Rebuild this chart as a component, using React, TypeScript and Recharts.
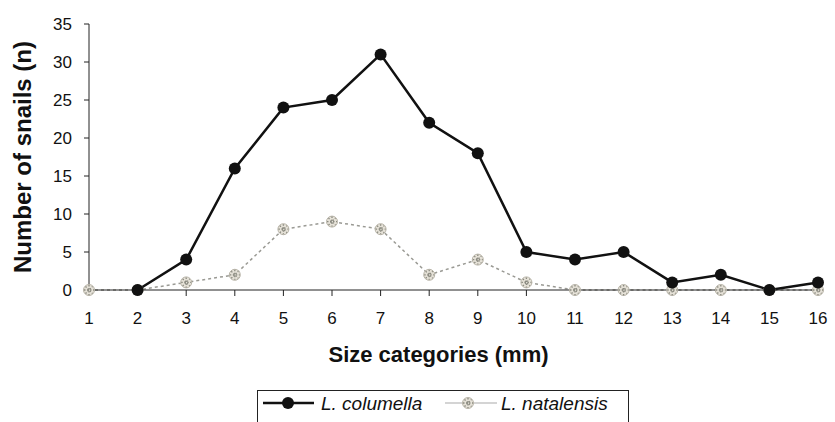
import React from 'react';
import { LineChart, Line, XAxis, YAxis, Label } from 'recharts';

// size categories (mm)
const sizes = [1, 2, 3, 4, 5, 6, 7, 8, 9, 10, 11, 12, 13, 14, 15, 16];
const columella = [null, 0, 4, 16, 24, 25, 31, 22, 18, 5, 4, 5, 1, 2, 0, 1];
const natalensis = [0, 0, 1, 2, 8, 9, 8, 2, 4, 1, 0, 0, 0, 0, 0, 0];
const yTicks = [0, 5, 10, 15, 20, 25, 30, 35];

const data = sizes.map((s, i) => ({ size: s, columella: columella[i], natalensis: natalensis[i] }));

const FONT = '"Liberation Sans", Arial, sans-serif';

// grey speckled marker for L. natalensis
function Speck({ cx, cy }: any) {
  if (cx == null || cy == null) return null;
  return (
    <g stroke="#8a8a80" strokeWidth={1.3} fill="none">
      <circle cx={cx} cy={cy} r={5.5} fill="#e6e2d8" stroke="#b8b4a8" strokeWidth={1} />
      <line x1={cx - 5} y1={cy} x2={cx + 5} y2={cy} strokeDasharray="1.5 1.5" />
      <line x1={cx} y1={cy - 5} x2={cx} y2={cy + 5} strokeDasharray="1.5 1.5" />
      <line x1={cx - 3.5} y1={cy - 3.5} x2={cx + 3.5} y2={cy + 3.5} strokeDasharray="1.5 1.5" />
      <line x1={cx - 3.5} y1={cy + 3.5} x2={cx + 3.5} y2={cy - 3.5} strokeDasharray="1.5 1.5" />
    </g>
  );
}

function LegendBox() {
  return (
    <div
      style={{
        position: 'absolute', left: 257, top: 390, width: 372, height: 40,
        border: '1px solid #222', boxSizing: 'border-box',
      }}
    >
      <svg width={372} height={40} style={{ position: 'absolute', left: -1, top: -1 }}>
        <line x1={6} y1={13} x2={57} y2={13} stroke="#111" strokeWidth={2.5} />
        <circle cx={31} cy={13} r={6} fill="#111" />
        <text x={64} y={20} fontFamily={FONT} fontStyle="italic" fontSize={19} fill="#111">L. columella</text>
        <line x1={188} y1={13} x2={240} y2={13} stroke="#aaa" strokeWidth={1.2} />
        <Speck cx={211} cy={13} />
        <text x={244} y={20} fontFamily={FONT} fontStyle="italic" fontSize={19} fill="#111">L. natalensis</text>
      </svg>
    </div>
  );
}

export default function App() {
  return (
    <div style={{ position: 'absolute', left: 0, top: 0, width: 835, height: 422, background: '#fff', overflow: 'hidden' }}>
      <LineChart width={835} height={422} data={data} margin={{ top: 24, right: 17, left: 0, bottom: 52 }}>
        <XAxis
          dataKey="size"
          type="number"
          domain={[1, 16]}
          ticks={sizes}
          interval={0}
          stroke="#222"
          tickSize={6}
          tickMargin={16}
          height={80}
          tick={{ fontSize: 17, fontFamily: FONT, fill: '#111' }}
        >
          <Label
            value="Size categories (mm)"
            position="insideBottom"
            offset={8}
            dx={-15}
            style={{ fontSize: 22, fontWeight: 700, fontFamily: FONT, fill: '#111' }}
          />
        </XAxis>
        <YAxis
          domain={[0, 35]}
          ticks={yTicks}
          interval={0}
          width={89}
          stroke="#222"
          tickSize={5}
          tickMargin={12}
          tick={{ fontSize: 17, fontFamily: FONT, fill: '#111' }}
        >
          <Label
            value="Number of snails (n)"
            angle={-90}
            position="insideLeft"
            offset={22}
            style={{ textAnchor: 'middle', fontSize: 24, fontWeight: 700, fontFamily: FONT, fill: '#111' }}
          />
        </YAxis>
        <Line
          dataKey="natalensis"
          stroke="#9a9a94"
          strokeWidth={1.5}
          strokeDasharray="3 3"
          dot={<Speck />}
          activeDot={false}
          isAnimationActive={false}
        />
        <Line
          dataKey="columella"
          stroke="#111"
          strokeWidth={2.5}
          dot={{ r: 6, fill: '#111', stroke: '#111', strokeWidth: 0 }}
          activeDot={false}
          isAnimationActive={false}
        />
      </LineChart>
      <LegendBox />
    </div>
  );
}
